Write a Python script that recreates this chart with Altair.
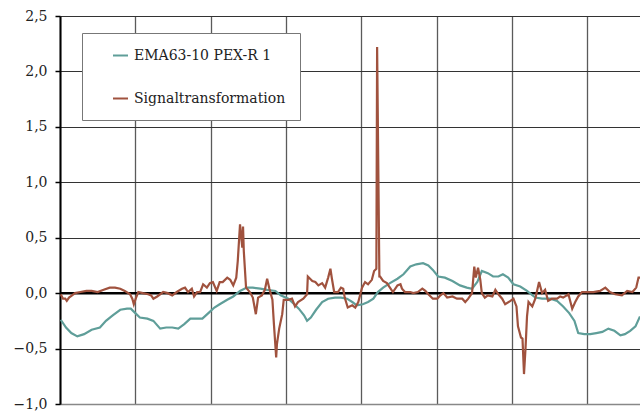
import altair as alt
import pandas as pd

# Smoothed EMA series
ema_x = [0.1, 0.8, 1.5, 2.3, 3.2, 4.2, 5.3, 6.1, 7.0, 8.0, 8.9, 9.4, 10.0, 10.6, 11.6,
         12.4, 13.3, 14.1, 14.9, 15.7, 16.5, 17.3, 18.1, 18.9, 19.7, 20.5, 21.2, 22.2,
         23.0, 23.9, 24.8, 25.6, 26.6, 27.5, 28.6, 29.3, 30.3, 31.1, 31.7, 32.4, 32.8,
         33.3, 34.0, 34.8, 35.6, 36.5, 37.3, 38.1, 38.8, 39.4, 40.2, 40.9, 41.6, 42.2,
         42.9, 43.8, 44.8, 45.6, 46.5, 47.3, 48.2, 48.9, 49.5, 50.2, 51.1, 52.1, 53.1,
         54.0, 54.7, 55.4, 56.0, 56.8, 57.5, 58.2, 58.8, 59.5, 60.2, 61.1, 62.0, 63.1,
         64.0, 65.1, 66.0, 66.8, 67.6, 68.3, 68.8, 69.6, 70.4, 71.2, 72.0, 72.8, 73.6,
         74.4, 75.0, 75.7, 76.4, 77.0]
ema_y = [-0.24, -0.31, -0.36, -0.39, -0.37, -0.33, -0.31, -0.25, -0.20, -0.15, -0.14,
         -0.14, -0.18, -0.22, -0.23, -0.25, -0.32, -0.31, -0.31, -0.32, -0.28, -0.23,
         -0.23, -0.23, -0.18, -0.13, -0.10, -0.06, -0.03, 0.02, 0.05, 0.05, 0.04, 0.03,
         0.02, -0.02, -0.05, -0.10, -0.14, -0.20, -0.25, -0.22, -0.15, -0.08, -0.05,
         -0.04, -0.04, -0.05, -0.08, -0.11, -0.10, -0.08, -0.05, 0.01, 0.05, 0.09, 0.13,
         0.17, 0.24, 0.26, 0.27, 0.25, 0.21, 0.15, 0.14, 0.11, 0.07, 0.05, 0.04, 0.10,
         0.20, 0.18, 0.15, 0.15, 0.17, 0.14, 0.08, 0.06, 0.02, -0.04, -0.05, -0.05,
         -0.07, -0.12, -0.18, -0.25, -0.36, -0.37, -0.37, -0.36, -0.35, -0.32, -0.34,
         -0.38, -0.37, -0.34, -0.30, -0.21]

# Transformed signal
sig_x = [0.1, 0.4, 0.7, 0.9, 1.2, 1.6, 2.0, 2.7, 3.5, 4.2, 5.0, 5.8, 6.6, 7.3, 8.0,
         8.6, 9.3, 9.6, 9.8, 10.1, 10.4, 11.0, 11.7, 12.1, 12.4, 12.9, 13.7, 14.3, 14.9,
         15.5, 16.2, 16.6, 17.0, 17.5, 17.8, 18.2, 18.6, 19.0, 19.5, 19.9, 20.3, 20.8,
         21.2, 21.6, 22.2, 22.6, 23.0, 23.4, 23.6, 23.9, 24.2, 24.3, 24.4, 24.7, 25.2,
         25.6, 26.0, 26.3, 26.8, 27.2, 27.5, 27.8, 28.2, 28.4, 28.7, 28.8, 29.1, 29.5,
         29.7, 30.3, 30.8, 31.2, 31.6, 32.3, 32.8, 32.9, 33.5, 33.9, 34.3, 34.8, 35.2,
         35.6, 35.9, 36.1, 36.4, 36.9, 37.3, 37.6, 37.8, 38.2, 38.8, 39.2, 39.6, 40.1,
         40.5, 40.9, 41.4, 41.7, 42.0, 42.1, 42.4, 42.5, 42.9, 43.4, 43.8, 44.2, 44.8,
         45.2, 45.4, 45.8, 46.5, 46.9, 47.5, 48.1, 48.5, 48.9, 49.5, 50.1, 50.5, 50.9,
         51.4, 52.1, 52.7, 53.4, 53.8, 54.2, 54.7, 55.0, 55.2, 55.5, 55.8, 56.0, 56.4,
         56.8, 57.4, 57.8, 58.2, 58.7, 59.1, 59.8, 60.2, 60.6, 60.8, 61.2, 61.4, 61.6,
         61.8, 62.0, 62.2, 62.7, 63.1, 63.6, 64.0, 64.4, 64.8, 65.3, 66.0, 66.4, 66.8,
         67.5, 68.0, 68.4, 68.8, 69.3, 70.0, 70.8, 71.7, 72.4, 73.0, 73.7, 74.6, 75.3,
         76.0, 76.5, 76.8, 77.0]
sig_y = [-0.01, -0.05, -0.05, -0.07, -0.04, -0.02, 0.00, 0.01, 0.02, 0.02, 0.01, 0.03,
         0.05, 0.05, 0.04, 0.02, -0.01, -0.05, -0.10, -0.04, 0.01, 0.00, -0.01, -0.02,
         -0.05, -0.03, 0.01, 0.00, -0.02, 0.01, 0.04, 0.05, 0.01, 0.04, -0.03, 0.01,
         0.01, 0.08, 0.05, 0.09, 0.10, 0.02, 0.10, 0.10, 0.14, 0.12, 0.07, 0.14, 0.29,
         0.62, 0.41, 0.60, 0.38, 0.05, 0.01, -0.04, -0.19, -0.04, -0.02, 0.03, 0.13,
         0.04, -0.06, -0.28, -0.58, -0.46, -0.32, -0.19, -0.06, -0.06, -0.05, -0.12,
         -0.08, -0.05, -0.01, 0.15, 0.11, 0.10, 0.07, 0.09, 0.05, 0.14, 0.22, 0.13, 0.01,
         0.01, 0.05, 0.04, -0.04, -0.13, -0.11, -0.13, -0.08, 0.05, 0.10, 0.08, 0.12,
         0.20, 0.22, 2.22, 0.15, 0.15, 0.11, 0.09, 0.05, 0.01, 0.07, 0.08, 0.04, 0.01,
         0.01, 0.00, 0.01, 0.04, 0.02, -0.01, -0.05, -0.05, -0.02, 0.00, -0.04, -0.03,
         -0.05, -0.05, -0.08, -0.05, 0.00, 0.24, 0.14, 0.23, 0.12, 0.00, -0.04, -0.02,
         -0.03, 0.03, -0.01, -0.05, -0.10, -0.07, -0.05, -0.12, -0.30, -0.40, -0.41,
         -0.73, -0.50, -0.21, -0.08, -0.12, -0.05, 0.10, 0.00, 0.03, -0.07, -0.05, -0.05,
         -0.03, -0.04, -0.01, -0.14, -0.08, -0.03, 0.01, 0.01, 0.01, 0.02, 0.05, 0.01,
         -0.01, -0.02, 0.02, 0.01, 0.05, 0.14, 0.14]

series_names = ["EMA63-10 PEX-R 1", "Signaltransformation"]
series_colors = ["#5f9e99", "#a0523e"]
y_ticks = [-1.0, -0.5, 0.0, 0.5, 1.0, 1.5, 2.0, 2.5]
x_ticks = [0, 10, 20, 30, 40, 50, 60, 70]

df = pd.concat([
    pd.DataFrame({"t": ema_x, "v": ema_y, "serie": series_names[0], "k": 0}),
    pd.DataFrame({"t": sig_x, "v": sig_y, "serie": series_names[1], "k": 1}),
], ignore_index=True)

FONT = "DejaVu Serif"

x_enc = alt.X("t:Q", scale=alt.Scale(domain=[0, 77], nice=False, zero=False),
              axis=alt.Axis(values=x_ticks, labels=False, ticks=False, title=None,
                            domain=True, domainColor="#888888", domainWidth=1.5,
                            grid=True, gridColor="#5a5a5a", gridWidth=1.3))
y_scale = alt.Scale(domain=[-1.0, 2.5], nice=False, zero=False)

lines = alt.Chart(df).mark_line(strokeWidth=2.2, clip=True).encode(
    x=x_enc,
    y=alt.Y("v:Q", scale=y_scale,
            axis=alt.Axis(values=y_ticks, title=None, grid=True, gridColor="#333333",
                          gridWidth=1, domainColor="#000000", domainWidth=2,
                          tickColor="#000000", tickSize=5, tickWidth=1.5,
                          labelPadding=8, labelFont=FONT, labelFontSize=14,
                          labelColor="#222222",
                          labelExpr="replace(format(datum.value, '.1f'), '.', ',')")),
    color=alt.Color("serie:N",
                    scale=alt.Scale(domain=series_names, range=series_colors),
                    legend=alt.Legend(title=None, orient="none", legendX=22, legendY=17,
                                      fillColor="#ffffff", strokeColor="#777777",
                                      padding=14, symbolOffset=16, symbolType="stroke",
                                      symbolSize=225, symbolStrokeWidth=2,
                                      labelFont=FONT, labelFontSize=14,
                                      labelColor="#222222", labelOffset=5,
                                      rowPadding=27, labelLimit=300)),
    order="k:Q",
    detail="serie:N",
)

zero_line = alt.Chart(pd.DataFrame({"z": [0.0]})).mark_rule(
    color="#000000", strokeWidth=2.5
).encode(y=alt.Y("z:Q", scale=y_scale))

chart = alt.layer(zero_line, lines).properties(
    width=580, height=388,
    autosize=alt.AutoSizeParams(type="none"),
    padding={"left": 60, "top": 16, "right": 0, "bottom": 7},
).configure_view(stroke=None).configure(
    background="#ffffff", font=FONT
)

chart.save("out.html", embed_options={"renderer": "svg", "actions": False})
